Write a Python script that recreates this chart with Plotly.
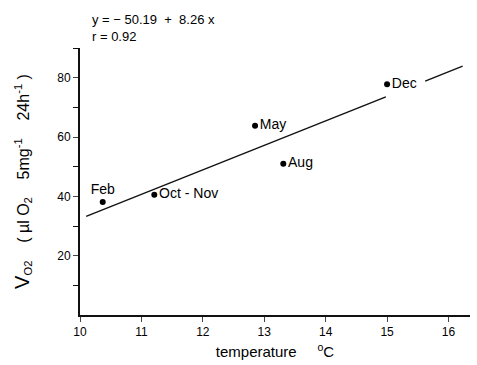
import plotly.graph_objects as go

months = ["Feb", "Oct-Nov", "May", "Aug", "Dec"]
temp = [10.37, 11.21, 12.85, 13.31, 15.0]
vo2 = [38.1, 40.5, 63.8, 51.0, 77.8]
intercept = -50.19
slope = 8.26
line_x = [10.1, 14.98, None, 15.62, 16.23]
x_ticks = [10, 11, 12, 13, 14, 15, 16]
y_ticks = [20, 40, 60, 80]
y_minor = [10, 30, 50, 70, 90]

line_y = [None if v is None else intercept + slope * v for v in line_x]

font = "Liberation Sans, Arial, sans-serif"
fig = go.Figure()
fig.add_trace(go.Scatter(x=line_x, y=line_y, mode="lines",
                         line=dict(color="#111", width=1.4), connectgaps=False,
                         hoverinfo="skip"))
positions = ["top center", "middle right", "middle right", "middle right", "middle right"]
texts = [m if m != "Oct-Nov" else "Oct - Nov" for m in months]
fig.add_trace(go.Scatter(x=temp, y=vo2, mode="markers+text", text=texts,
                         textposition=positions,
                         textfont=dict(family=font, size=14, color="#000"),
                         marker=dict(color="#000", size=6)))
fig.add_annotation(x=0.026, y=1.0, xref="paper", yref="paper", xanchor="left", yanchor="bottom",
                   showarrow=False, align="left", yshift=2,
                   text="y = − 50.19  +  8.26 x<br>r = 0.92",
                   font=dict(family=font, size=13, color="#000"))
fig.update_layout(
    width=477, height=365,
    margin=dict(l=80, r=7, t=48, b=45),
    paper_bgcolor="white", plot_bgcolor="white",
    showlegend=False,
    font=dict(family=font, color="#000"),
    xaxis=dict(range=[10, 16.35], tickvals=x_ticks, ticks="outside", ticklen=5,
               showline=True, linecolor="#111", linewidth=2, showgrid=False,
               zeroline=False, tickfont=dict(size=12),
               title=dict(text="temperature     <sup>o</sup>C", font=dict(size=15), standoff=8)),
    yaxis=dict(range=[0, 90], tickvals=y_ticks, ticks="outside", ticklen=5,
               showline=True, linecolor="#111", linewidth=2, showgrid=False,
               zeroline=False, tickfont=dict(size=12),
               minor=dict(tickvals=y_minor, ticks="outside", ticklen=5, tickcolor="#111"),
               title=dict(text="<span style='font-size:20px'>V</span><sub>O2</sub>    ( µl O<sub>2</sub>    5mg<sup>-1</sup>    24h<sup>-1</sup> )",
                          font=dict(size=16), standoff=24)),
)
fig.write_html("out.html")
